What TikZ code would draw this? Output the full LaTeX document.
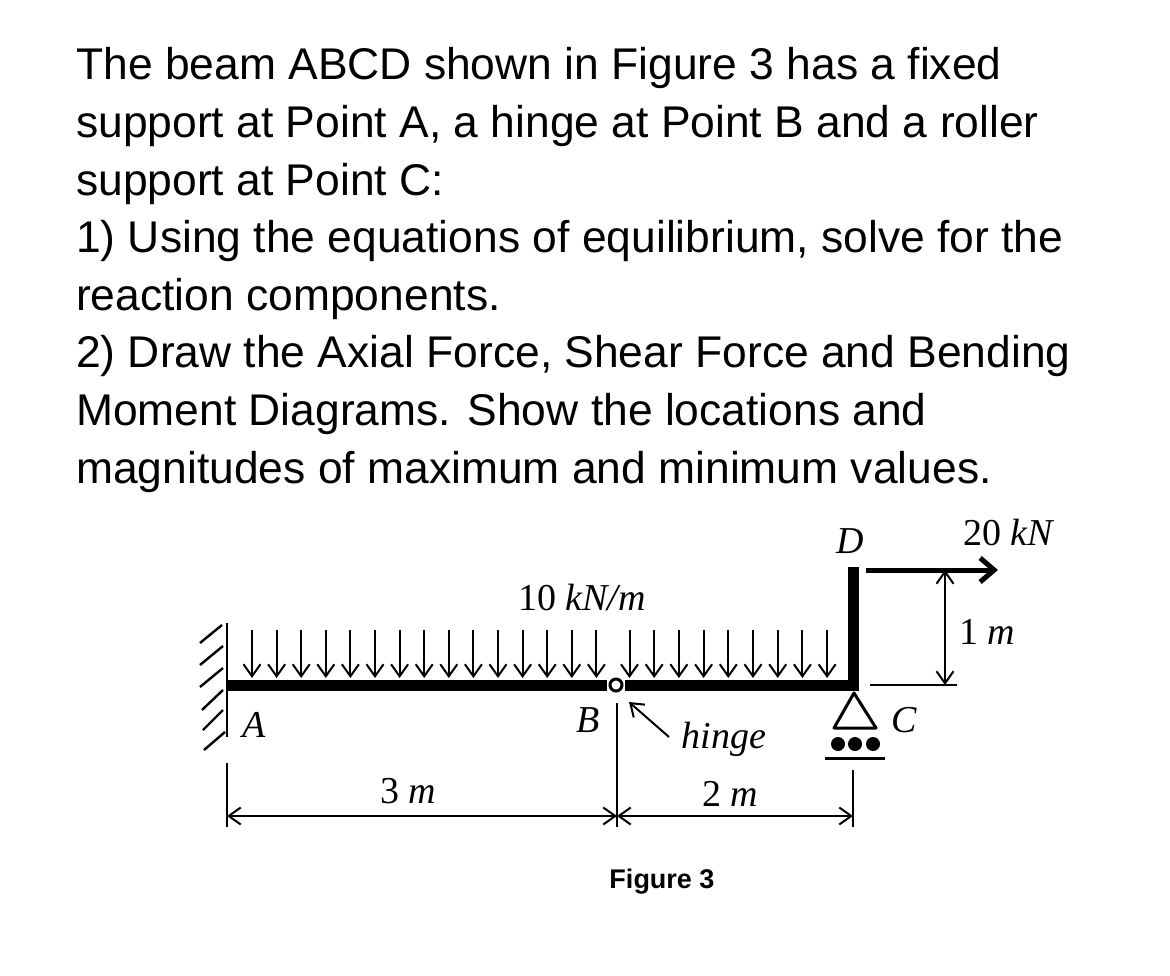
\documentclass[tikz,border=0pt]{standalone}
\usepackage{fontspec}
\setmainfont{Liberation Sans}
\newfontfamily\beamfont{Liberation Serif}
\usetikzlibrary{arrows.meta}

\tikzset{
  thin line/.style={line width=2pt},
  member/.style={line width=11pt},
  barb/.style={thin line, -{Straight Barb[length=12pt,width=17pt,line width=2pt]}},
  dimline/.style={thin line, {Straight Barb[length=12pt,width=17pt,line width=2pt]}-{Straight Barb[length=12pt,width=17pt,line width=2pt]}},
  label/.style={font=\beamfont\fontsize{38}{40}\selectfont, inner sep=0pt, anchor=base},
  slabel/.style={label, font=\beamfont\itshape\fontsize{38}{40}\selectfont},
}

\begin{document}
\begin{tikzpicture}[x=1pt, y=-1pt]
\useasboundingbox (0,0) rectangle (1170,976);

\node[anchor=base west, inner sep=0pt, align=left, font=\fontsize{44.4}{57.6}\selectfont] (question) at (76,483)
  {The beam ABCD shown in Figure 3 has a fixed\\
   support at Point A, a hinge at Point B and a roller\\
   support at Point C:\\
   1) Using the equations of equilibrium, solve for the\\
   reaction components.\\
   2) Draw the Axial Force, Shear Force and Bending\\
   Moment Diagrams. Show the locations and\\
   magnitudes of maximum and minimum values.};

% beam
\coordinate (A) at (227,685);
\coordinate (E) at (853,685);
\coordinate (D) at (853,567);
\node[draw, circle, line width=3pt, minimum size=12pt, inner sep=0pt, outer sep=3pt] (hinge) at (616,685) {};
\draw[member] (A) -- (hinge);
\draw[member] (hinge) -- (E);
\draw[member] (853,691) -- (D);

% fixed support
\coordinate (w1) at (227,623);
\coordinate (w2) at (227,737);
\draw[line width=2.4pt] (w1) -- (w2);
\foreach \i/\a/\b/\c/\d in {1/222/625/200/643, 2/223/646/200/665, 3/223/668/200/687, 4/223/690/202/710, 5/223/710/203/730, 6/225/732/204/750}
  \draw[line width=2.4pt] (\a,\b) coordinate (h\i) -- (\c,\d) coordinate (k\i);

% distributed load
\foreach \i in {0,...,14}
  \draw[barb] (252+24.6*\i,630) coordinate (t\i) -- (252+24.6*\i,678) coordinate (b\i);
\foreach \i in {0,...,8}
  \draw[barb] (629.5+24.7*\i,630) coordinate (u\i) -- (629.5+24.7*\i,678) coordinate (v\i);

% roller at C
\coordinate (c1) at (854,693);
\coordinate (c2) at (834,728);
\coordinate (c3) at (876,728);
\draw[line width=3pt, line join=round] (c1) -- (c2) -- (c3) -- cycle;
\foreach \x in {838,855,873}
  \fill (\x,744) circle (7pt);
\coordinate (g1) at (825,758);
\coordinate (g2) at (885,758);
\draw[line width=3pt] (g1) -- (g2);

% 20 kN force
\coordinate (f1) at (866,570);
\coordinate (f2) at (998,570);
\draw[line width=5pt, -{Straight Barb[length=14pt,width=24pt,line width=5pt]}] (f1) -- (f2);

% dimensions
\coordinate (d1) at (945,570);
\coordinate (d2) at (945,685);
\coordinate (e1) at (870,685);
\coordinate (e2) at (957,685);
\draw[thin line] (e1) -- (e2);
\draw[dimline] (d1) -- (d2);

\coordinate (p1) at (227,763);
\coordinate (p2) at (227,827);
\coordinate (q1) at (617,703);
\coordinate (q2) at (617,827);
\coordinate (r1) at (853,770);
\coordinate (r2) at (853,827);
\draw[thin line] (p1) -- (p2);
\draw[thin line] (q1) -- (q2);
\draw[thin line] (r1) -- (r2);
\coordinate (m1) at (227,816);
\coordinate (m2) at (617,816);
\coordinate (m3) at (853,816);
\draw[dimline] (m1) -- (m2);
\draw[dimline] (m2) -- (m3);

% hinge pointer
\coordinate (n1) at (669,737);
\coordinate (n2) at (629,702);
\draw[barb] (n1) -- (n2);

% labels
\node[label] (load) at (582,610) {10 \textit{kN/m}};
\node[slabel] (lD) at (850,553) {D};
\node[label] (force) at (1009,545) {20 \textit{kN}};
\node[label] (one) at (987,644) {1 \textit{m}};
\node[slabel] (lA) at (254,737) {A};
\node[slabel] (lB) at (588,732) {B};
\node[slabel] (lC) at (904,732) {C};
\node[slabel] (lhinge) at (724,748) {hinge};
\node[label] (three) at (408,803) {3 \textit{m}};
\node[label] (two) at (730,806) {2 \textit{m}};
\node[anchor=base, inner sep=0pt, font=\bfseries\fontsize{27}{29}\selectfont] (caption) at (662,888) {Figure 3};
\end{tikzpicture}
\end{document}
